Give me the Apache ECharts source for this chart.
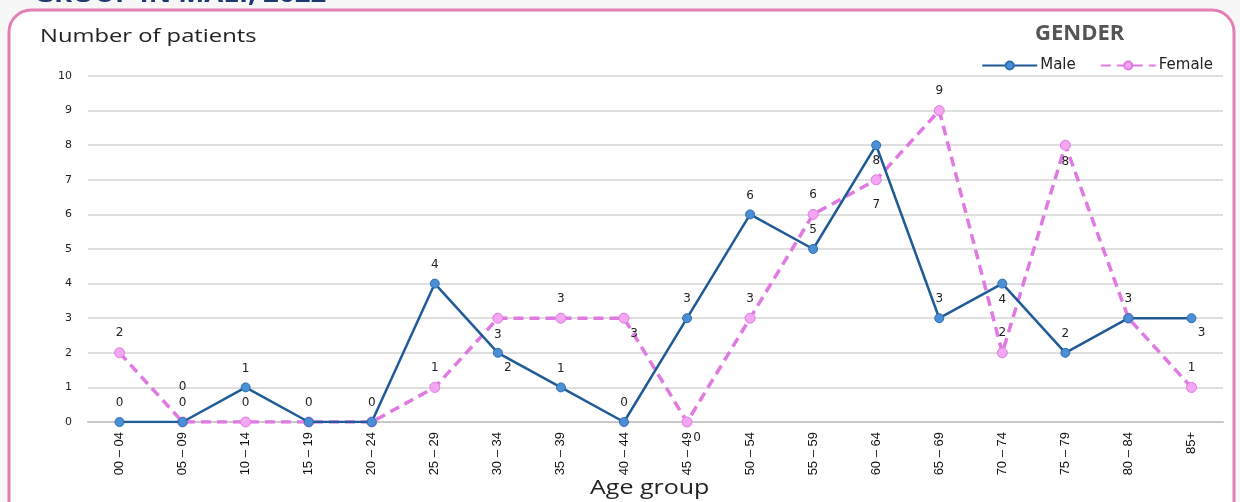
<!DOCTYPE html>
<html>
<head>
<meta charset="utf-8">
<style>
  html, body { margin: 0; padding: 0; background: #f7f7f8; }
  #chart { width: 1240px; height: 502px; }
</style>
<script src="https://cdn.jsdelivr.net/npm/echarts@6/dist/echarts.min.js"></script>
</head>
<body>
<div id="chart"></div>
<script>
// 年龄组
var ageGroups = ['00 – 04', '05 – 09', '10 – 14', '15 – 19', '20 – 24', '25 – 29', '30 – 34', '35 – 39', '40 – 44',
    '45 – 49', '50 – 54', '55 – 59', '60 – 64', '65 – 69', '70 – 74', '75 – 79', '80 – 84', '85+'];
var male = [0, 0, 1, 0, 0, 4, 2, 1, 0, 3, 6, 5, 8, 3, 4, 2, 3, 3];
var female = [2, 0, 0, 0, 0, 1, 3, 3, 3, 0, 3, 6, 7, 9, 2, 8, 3, 1];
var yTicks = [0, 1, 2, 3, 4, 5, 6, 7, 8, 9, 10];

// label placement (a = above, b = below, br = below right, n = none)
var malePos = ['a', 'a', 'a', 'a', 'a', 'a', 'br', 'a', 'a', 'a', 'a', 'a', 'b', 'a', 'b', 'a', 'a', 'br'];
var femalePos = ['a', 'a2', 'a', 'n', 'n', 'a', 'b', 'a', 'br', 'br', 'a', 'a', 'b2', 'a', 'a', 'b', 'n', 'a'];

var labelFont = 'DejaVu Sans';

function buildData(vals, pos) {
    return vals.map(function (v, i) {
        var p = pos[i];
        var lab = { show: true, position: 'top', distance: 8 };
        if (p === 'n') lab.show = false;
        if (p === 'a2') lab.distance = 24;
        if (p === 'b') { lab.position = 'bottom'; lab.distance = 5; }
        if (p === 'b2') { lab.position = 'bottom'; lab.distance = 14; }
        if (p === 'br') { lab.position = 'bottom'; lab.distance = 4; lab.offset = [10, 0]; }
        return { value: v, label: lab };
    });
}

var e = echarts.init(document.getElementById('chart'));
var option = {
    backgroundColor: '#f7f7f8',
    animation: false,
    graphic: [
        {
            type: 'rect',
            z: -1,
            shape: { x: 9, y: 10, width: 1225, height: 540, r: 22 },
            style: { fill: '#ffffff', stroke: '#e47fb5', lineWidth: 3 }
        },
        {
            type: 'text', x: 34, y: -17, scaleX: 1.15,
            style: { text: 'GROUP IN MALI, 2022', fill: '#1d3a6f', font: 'bold 24px "Open Sans"' }
        },
        {
            type: 'text', x: 40, y: 27, scaleX: 1.25,
            style: { text: 'Number of patients', fill: '#222', font: '19px "Open Sans"' }
        },
        {
            type: 'text', x: 1035, y: 23,
            style: { text: 'GENDER', fill: '#555', font: 'bold 22px "Open Sans"' }
        },
        {
            type: 'text', x: 590, y: 478, scaleX: 1.25,
            style: { text: 'Age group', fill: '#222', font: '20px "Open Sans"' }
        }
    ],
    legend: {
        right: 22,
        top: 53,
        itemWidth: 55,
        itemHeight: 10,
        itemGap: 24,
        textStyle: { color: '#222', fontFamily: labelFont, fontSize: 15, padding: [0, 0, 0, -2] },
        data: ['Male', 'Female']
    },
    grid: { left: 88, right: 17, top: 76, bottom: 80, outerBoundsMode: 'none' },
    xAxis: {
        type: 'category',
        data: ageGroups,
        boundaryGap: true,
        axisLine: { show: true, lineStyle: { color: '#c8c8c8', width: 2 } },
        axisTick: { show: false },
        axisLabel: {
            rotate: 90,
            margin: 10,
            color: '#111',
            fontSize: 13,
            fontFamily: 'Liberation Sans Narrow, Arial Narrow, Liberation Sans'
        }
    },
    yAxis: {
        type: 'value',
        min: yTicks[0],
        max: yTicks[yTicks.length - 1],
        interval: 1,
        axisLine: { show: false },
        axisTick: { show: false },
        axisLabel: { color: '#222', fontSize: 11, fontFamily: labelFont, margin: 16 },
        splitLine: { lineStyle: { color: '#d4d4d4', width: 1.5 } }
    },
    series: [
        {
            name: 'Male',
            type: 'line',
            data: buildData(male, malePos),
            symbol: 'circle',
            symbolSize: 9,
            lineStyle: { color: '#1f5b96', width: 2.5 },
            itemStyle: { color: '#4a8fd6', borderColor: '#2f6fb0', borderWidth: 1 },
            label: { color: '#222', fontSize: 12, fontFamily: labelFont },
            z: 3
        },
        {
            name: 'Female',
            type: 'line',
            data: buildData(female, femalePos),
            symbol: 'circle',
            symbolSize: 10,
            lineStyle: { color: '#e07ae2', width: 3.5, type: [10, 6] },
            itemStyle: { color: '#f3a6f1', borderColor: '#e07ae2', borderWidth: 1 },
            label: { color: '#222', fontSize: 12, fontFamily: labelFont },
            z: 2
        }
    ]
};
e.setOption(option);
</script>
</body>
</html>
